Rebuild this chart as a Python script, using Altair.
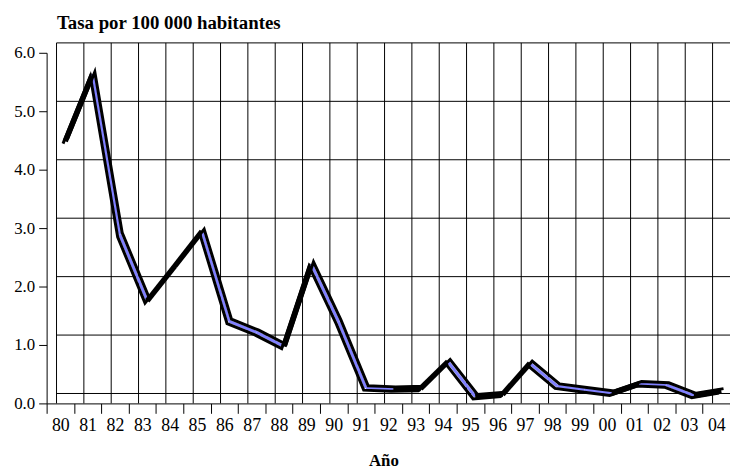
import altair as alt
import pandas as pd

# ---- data ----
years = ["80", "81", "82", "83", "84", "85", "86", "87", "88", "89",
         "90", "91", "92", "93", "94", "95", "96", "97", "98", "99",
         "00", "01", "02", "03", "04"]
rates = [4.40, 5.55, 2.80, 1.67, 2.26, 2.86, 1.32, 1.13, 0.89, 2.30,
         1.31, 0.18, 0.16, 0.17, 0.63, 0.03, 0.07, 0.60, 0.21, 0.15,
         0.09, 0.25, 0.23, 0.05, 0.13]
y_ticks = [0, 1, 2, 3, 4, 5, 6]

FONT = "Liberation Serif"
BLUE = "#8080ff"
W, H = 690, 354
DEPTH = 10  # 3D wall offset in px

pts = pd.DataFrame({"year": years, "rate": rates, "idx": list(range(len(years)))})
rows = []
for i in range(len(years) - 1):
    d = "down" if rates[i + 1] <= rates[i] else "up"
    for j in (i, i + 1):
        rows.append({"year": years[j], "rate": rates[j], "idx": j, "seg": i, "dir": d})
segs = pd.DataFrame(rows)
grid_y = pd.DataFrame({"rate": y_ticks, "year": [years[0]] * len(y_ticks),
                       "year2": [years[-1]] * len(y_ticks)})
grid_x = pd.DataFrame({"year": years})

x_scale = alt.Scale(domain=years, paddingInner=0, paddingOuter=0)
y_scale = alt.Scale(domain=[0, 6], nice=False, zero=True)

x_axis = alt.Axis(
    title="Año", titleFont=FONT, titleFontSize=17, titleFontWeight="bold",
    titleColor="black", titleX=340, titleY=63, titleAlign="center",
    titleBaseline="alphabetic",
    labelFont=FONT, labelFontSize=18, labelColor="black", labelAngle=0,
    labelPadding=3, tickSize=10, tickColor="black", domainColor="black",
    tickBand="extent", grid=False,
)
y_axis = alt.Axis(
    title="Tasa por 100 000 habitantes", titleAngle=0, titleX=10, titleY=-25,
    titleAlign="left", titleBaseline="alphabetic", titleFont=FONT,
    titleFontSize=19, titleFontWeight="bold", titleColor="black",
    values=y_ticks, format=".1f", labelFont=FONT, labelFontSize=17,
    labelColor="black", labelPadding=4, tickSize=8, tickColor="black",
    domainColor="black", grid=False,
)

X = lambda **kw: alt.X("year:O", sort=years, scale=x_scale, axis=x_axis, **kw)
Y = alt.Y("rate:Q", scale=y_scale, axis=y_axis)

# back wall (shifted up-right by DEPTH px)
wall_h = alt.Chart(grid_y).mark_rule(
    color="black", strokeWidth=1, xOffset=DEPTH, x2Offset=DEPTH, yOffset=-DEPTH
).encode(y=Y, x=X(bandPosition=0), x2=alt.X2("year2", bandPosition=1))

wall_v = alt.Chart(grid_x).mark_rule(
    color="black", strokeWidth=1, xOffset=DEPTH, yOffset=-DEPTH, y2Offset=-DEPTH
).encode(x=X(bandPosition=0))

# ribbon top face: blue on falling segments, dark on rising ones
mid = alt.Chart(segs).mark_line(xOffset=5, yOffset=-5).encode(
    x=X(), y=Y,
    color=alt.Color("dir:N", scale=alt.Scale(domain=["up", "down"], range=["black", BLUE]), legend=None),
    strokeWidth=alt.StrokeWidth("dir:N", scale=alt.Scale(domain=["up", "down"], range=[5.5, 3]), legend=None),
    detail="seg:N",
    order=alt.Order("idx:Q"),
)

back = alt.Chart(pts).mark_line(color="black", strokeWidth=3, xOffset=7.25, yOffset=-7.25).encode(
    x=X(), y=Y, order=alt.Order("idx:Q")
)
front = alt.Chart(pts).mark_line(color="black", strokeWidth=3, xOffset=2.75, yOffset=-2.75).encode(
    x=X(), y=Y, order=alt.Order("idx:Q")
)

chart = alt.layer(wall_h, wall_v, mid, back, front).properties(
    width=W, height=H,
    padding={"left": 39, "top": 43, "right": 0, "bottom": 64},
    autosize=alt.AutoSizeParams(type="none"),
    background="white",
).configure_view(stroke=None)

chart.save("out.html", embed_options={"renderer": "svg", "actions": False})
